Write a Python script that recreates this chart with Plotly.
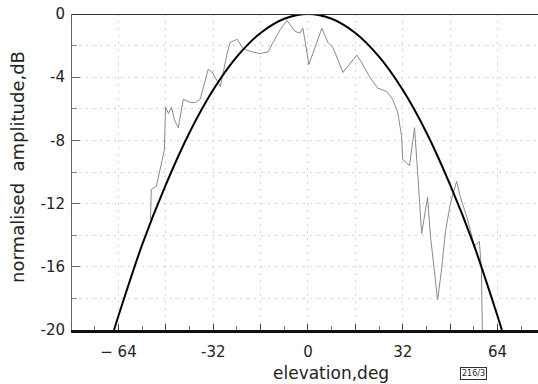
import plotly.graph_objects as go

# theoretical (thick black) pattern
theory_deg = [-65.5, -64, -56, -48, -40, -32, -24, -16, -8, 0, 8, 16, 24, 32, 40, 48, 56, 64, 65.5]
theory_db = [-20.0, -19.1, -14.6, -10.8, -7.5, -4.8, -2.7, -1.2, -0.3, 0.0, -0.3, -1.2, -2.7, -4.8, -7.5, -10.8, -14.6, -19.1, -20.0]

meas_deg = [-53.2, -52.9, -51.2, -48.5, -48.1, -47.1, -46.1, -45.1, -43.8, -42.1, -39.7, -38.0, -36.4,
            -33.7, -32.3, -29.6, -27.3, -26.3, -23.9, -21.9, -18.9, -16.2, -13.5, -9.4, -7.1, -4.4,
            -2.7, -1.7, 0.3, 4.7, 6.7, 8.4, 11.8, 16.5, 18.2, 20.9, 23.6, 26.6, 28.6, 30.3, 31.6,
            32.0, 34.3, 36.0, 37.0, 38.4, 40.4, 41.4, 43.8, 45.1, 46.5, 48.1, 50.2, 51.5, 53.9,
            56.2, 57.9, 58.6, 58.9]
meas_db = [-13.0, -11.1, -10.9, -8.6, -5.9, -6.3, -5.9, -6.7, -7.2, -5.4, -5.6, -5.6, -5.4,
           -3.5, -3.7, -4.6, -2.5, -1.8, -1.6, -2.2, -2.4, -2.5, -2.4, -1.0, -0.4, -1.1,
           -1.2, -0.9, -3.2, -0.9, -1.8, -2.1, -3.7, -2.6, -3.1, -4.0, -4.7, -4.9, -5.4, -6.2, -7.7,
           -9.2, -9.6, -7.2, -9.9, -13.9, -11.6, -14.1, -18.1, -16.2, -13.7, -12.0, -10.6, -11.6, -13.0,
           -14.7, -14.4, -16.2, -20.0]

x_tickvals = [-64, -48, -32, -16, 0, 16, 32, 48, 64]
x_ticktext = ["\u2212 64", "", "-32", "", "0", "", "32", "", "64"]
y_tickvals = [0, -4, -8, -12, -16, -20]
y_ticktext = ["0", "-4", "-8", "-12", "-16", "-20"]

FONT = "DejaVu Sans"
GRID = "#d4d4d4"
fig = go.Figure()
fig.add_trace(go.Scatter(x=meas_deg, y=meas_db, mode="lines",
                         line=dict(color="#8a8a8a", width=1), hoverinfo="skip"))
fig.add_trace(go.Scatter(x=theory_deg, y=theory_db, mode="lines",
                         line=dict(color="#000000", width=2, shape="spline", smoothing=0.8),
                         hoverinfo="skip"))

fig.update_layout(
    width=538, height=384,
    margin=dict(l=72, r=0, t=14, b=54, autoexpand=False),
    paper_bgcolor="white", plot_bgcolor="white",
    showlegend=False,
    font=dict(family=FONT, color="#222222", size=15),
    xaxis=dict(range=[-79.7, 77.7], tickvals=x_tickvals, ticktext=x_ticktext,
               automargin=False, ticklabelstandoff=6,
               showgrid=True, gridcolor=GRID, griddash="2px,5px", gridwidth=1,
               zeroline=False, showline=True, linecolor="#111111", linewidth=2.5,
               ticks="inside", ticklen=6, tickcolor="#444444",
               minor=dict(dtick=8, ticks="inside", ticklen=4, tickcolor="#777777", showgrid=False),
               tickfont=dict(size=15, family=FONT, color="#222222")),
    yaxis=dict(range=[-20, 0], tickvals=y_tickvals, ticktext=y_ticktext,
               automargin=False, ticklabelstandoff=3,
               showgrid=False, zeroline=False,
               showline=True, linecolor="#666666", linewidth=1,
               ticks="inside", ticklen=8, tickcolor="#666666",
               minor=dict(dtick=2, ticks="inside", ticklen=5, tickcolor="#888888",
                          showgrid=True, gridcolor=GRID, griddash="2px,5px", gridwidth=1),
               tickfont=dict(size=15, family=FONT, color="#222222")),
)

# top 0 dB line
fig.add_shape(type="line", xref="paper", yref="y", x0=0, x1=1, y0=0, y1=0,
              line=dict(color="#333333", width=2))

fig.add_annotation(text="normalised  amplitude,dB", xref="paper", yref="paper",
                   x=-0.116, y=0.516, xanchor="center", yanchor="middle", textangle=-90,
                   showarrow=False, font=dict(size=18, family=FONT, color="#222222"))
fig.add_annotation(text="elevation,deg", xref="paper", yref="paper",
                   x=0.556, y=-0.135, xanchor="center", yanchor="middle",
                   showarrow=False, font=dict(size=17, family=FONT, color="#222222"))
fig.add_annotation(text="216/3", xref="paper", yref="paper",
                   x=0.861, y=-0.139, xanchor="center", yanchor="middle",
                   showarrow=False, bordercolor="#333333", borderwidth=1, borderpad=1,
                   font=dict(size=8, family=FONT, color="#222222"))

fig.write_html("out.html", config={"displayModeBar": False},
               post_script="document.body.style.margin='0';document.body.style.overflow='hidden';")
